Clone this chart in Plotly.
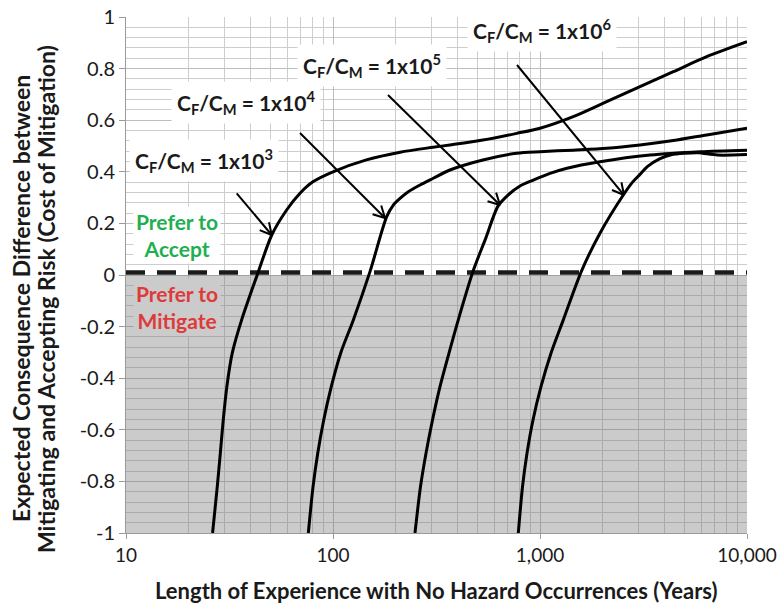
import math
import plotly.graph_objects as go

# ---- data: expected consequence difference vs. years without a hazard ----
years_1e3 = [26.2, 27.6, 28.55, 29.5, 30.7, 32.6, 36.2, 43.6, 50.6, 59.7, 69.3, 80.3,
             100, 145, 211, 304, 367, 530, 772, 1000, 1448, 2100, 3041, 4406, 6388, 10000]
diff_1e3 = [-1.0, -0.82, -0.691, -0.562, -0.433, -0.303, -0.174, 0.013, 0.155, 0.252,
            0.317, 0.362, 0.40, 0.446, 0.476, 0.495, 0.504, 0.523, 0.549, 0.569,
            0.614, 0.672, 0.730, 0.788, 0.846, 0.904]

years_1e4 = [76.0, 80.1, 84.4, 90.2, 98.1, 108.9, 125.4, 150.9, 181.7, 195.6, 210.7,
             231.1, 263.3, 305.1, 367, 530, 772, 1000, 1445, 2100, 3041, 4406, 6388, 10000]
diff_1e4 = [-1.0, -0.82, -0.691, -0.562, -0.433, -0.303, -0.174, 0.013, 0.226, 0.271,
            0.297, 0.323, 0.349, 0.375, 0.407, 0.446, 0.472, 0.478, 0.484, 0.491,
            0.504, 0.521, 0.543, 0.569]

years_1e5 = [248.9, 264.7, 281.4, 302.5, 328.8, 363.4, 402.9, 476.1, 545.4, 626.8,
             700.5, 800.8, 928, 1118, 1350, 1949, 3399, 5929, 10000]
diff_1e5 = [-1.0, -0.82, -0.691, -0.562, -0.433, -0.303, -0.174, 0.017, 0.14, 0.267,
            0.31, 0.345, 0.368, 0.394, 0.414, 0.439, 0.465, 0.478, 0.484]

years_1e6 = [785.6, 823.3, 865.5, 925.1, 1011, 1130, 1296, 1590, 1949, 2526, 2800,
             3041, 3300, 3780, 4300, 5000, 5800, 7200, 10000]
diff_1e6 = [-1.0, -0.82, -0.691, -0.562, -0.433, -0.303, -0.174, 0.017, 0.162, 0.31,
            0.36, 0.39, 0.42, 0.45, 0.466, 0.472, 0.474, 0.465, 0.467]

# ---- axis ticks ----
x_tick_vals = [10, 100, 1000, 10000]
x_tick_text = ["10", "100", "1,000", "10,000"]
y_tick_vals = [1, 0.8, 0.6, 0.4, 0.2, 0, -0.2, -0.4, -0.6, -0.8, -1]
y_tick_text = ["1", "0.8", "0.6", "0.4", "0.2", "0", "-0.2", "-0.4", "-0.6", "-0.8", "-1"]

# ---- callout labels (ratio exponent, label centre, arrow tail, arrow head) ----
label_exponents = [3, 4, 5, 6]
label_x = [1.378, 1.58, 2.19, 3.01]          # log10(years)
label_y = [0.443, 0.668, 0.813, 0.949]
arrow_tail_x = [1.5348, 1.8406, 2.2657, 2.8889]
arrow_tail_y = [0.3167, 0.5504, 0.6977, 0.814]
arrow_head_x = [1.7039, 2.2512, 2.8068, 3.4058]
arrow_head_y = [0.155, 0.2209, 0.2713, 0.310]

# ---- layout geometry ----
W, H = 777, 606
ML, MR, MT, MB = 126, 30, 17, 73
PW, PH = W - ML - MR, H - MT - MB
X_RANGE = [1, 4]
Y_RANGE = [-1, 1]

FONT = "Lato"
INK = "#1a1a1a"
SHADE = "rgba(110,110,110,0.36)"


def to_px(lx, y):
    px = ML + (lx - X_RANGE[0]) / (X_RANGE[1] - X_RANGE[0]) * PW
    py = MT + (Y_RANGE[1] - y) / (Y_RANGE[1] - Y_RANGE[0]) * PH
    return px, py


def from_px(px, py):
    lx = X_RANGE[0] + (px - ML) / PW * (X_RANGE[1] - X_RANGE[0])
    y = Y_RANGE[1] - (py - MT) / PH * (Y_RANGE[1] - Y_RANGE[0])
    return lx, y


fig = go.Figure()

# shaded "mitigate" region (drawn as a filled trace so gridlines show through)
fig.add_trace(go.Scatter(x=[10, 10000, 10000, 10, 10], y=[0, 0, -1, -1, 0],
                         mode="lines", fill="toself", fillcolor=SHADE,
                         line=dict(width=0), hoverinfo="skip", showlegend=False))

# break-even line
fig.add_trace(go.Scatter(x=[10, 10000], y=[0.01, 0.01], mode="lines",
                         line=dict(color=INK, width=4.5, dash="19px,12px"),
                         hoverinfo="skip", showlegend=False))

for xs, ys in [(years_1e3, diff_1e3), (years_1e4, diff_1e4),
               (years_1e5, diff_1e5), (years_1e6, diff_1e6)]:
    fig.add_trace(go.Scatter(x=xs, y=ys, mode="lines",
                             line=dict(color="black", width=3, shape="spline", smoothing=0.8),
                             hoverinfo="skip", showlegend=False))

# callout arrows with open heads
for tx, ty, hx, hy in zip(arrow_tail_x, arrow_tail_y, arrow_head_x, arrow_head_y):
    tpx, tpy = to_px(tx, ty)
    hpx, hpy = to_px(hx, hy)
    dx, dy = hpx - tpx, hpy - tpy
    n = math.hypot(dx, dy)
    ux, uy = dx / n, dy / n
    wing = 13
    ang = math.radians(28)
    wings = []
    for s in (1, -1):
        c, si = math.cos(s * ang), math.sin(s * ang)
        bx = -(ux * c - uy * si)
        by = -(ux * si + uy * c)
        wings.append(from_px(hpx + wing * bx, hpy + wing * by))
    xs = [10 ** tx, 10 ** hx, None, 10 ** wings[0][0], 10 ** hx, 10 ** wings[1][0]]
    ys = [ty, hy, None, wings[0][1], hy, wings[1][1]]
    fig.add_trace(go.Scatter(x=xs, y=ys, mode="lines",
                             line=dict(color="black", width=2),
                             hoverinfo="skip", showlegend=False))

for e, lx, ly in zip(label_exponents, label_x, label_y):
    fig.add_annotation(x=lx, y=ly, xref="x", yref="y", showarrow=False,
                       text=f"<b>C<sub>F</sub>/C<sub>M</sub> = 1x10<sup>{e}</sup></b>",
                       font=dict(family=FONT, size=21, color=INK),
                       bgcolor="white", borderpad=5)

fig.add_annotation(x=1.245, y=0.154, xref="x", yref="y", showarrow=False,
                   text="<b>Prefer to<br>Accept</b>",
                   font=dict(family=FONT, size=21, color="#1eb050"),
                   bgcolor="white", borderpad=2)
fig.add_annotation(x=1.245, y=-0.125, xref="x", yref="y", showarrow=False,
                   text="<b>Prefer to<br>Mitigate</b>",
                   font=dict(family=FONT, size=21, color="#de3a3a"),
                   bgcolor="#cbcbcb", borderpad=2)

# axis titles
y_title_lines = ["Expected Consequence Difference between",
                 "Mitigating and Accepting Risk (Cost of Mitigation)"]
y_title_px = [21, 46]
for line, px in zip(y_title_lines, y_title_px):
    fig.add_annotation(x=(px - ML) / PW, y=(MT + PH - 299) / PH,
                       xref="paper", yref="paper", showarrow=False,
                       textangle=-90, xanchor="center", yanchor="middle",
                       text=f"<b>{line}</b>",
                       font=dict(family=FONT, size=23, color=INK))
fig.add_annotation(x=0.5, y=(MT + PH - 590) / PH, xref="paper", yref="paper",
                   showarrow=False, xanchor="center", yanchor="middle",
                   text="<b>Length of Experience with No Hazard Occurrences (Years)</b>",
                   font=dict(family=FONT, size=22, color=INK))

fig.update_layout(
    width=W, height=H,
    margin=dict(l=ML, r=MR, t=MT, b=MB, autoexpand=False),
    paper_bgcolor="white", plot_bgcolor="white",
    font=dict(family=FONT, size=20, color=INK),
    showlegend=False,
    xaxis=dict(type="log", range=X_RANGE, tickvals=x_tick_vals, ticktext=x_tick_text,
               ticks="outside", ticklen=5, tickcolor="#9a9a9a",
               showline=True, linecolor="#9a9a9a", linewidth=1,
               showgrid=True, gridcolor="#bdbdbd", gridwidth=1,
               minor=dict(dtick="D1", showgrid=True, gridcolor="#cdcdcd", ticks=""),
               zeroline=False, tickfont=dict(size=19), ticklabeloverflow="allow",
               automargin=False),
    yaxis=dict(range=Y_RANGE, tickvals=y_tick_vals, ticktext=y_tick_text,
               ticks="outside", ticklen=6, tickcolor="#9a9a9a",
               showline=True, linecolor="#9a9a9a", linewidth=1,
               showgrid=True, gridcolor="#bdbdbd", gridwidth=1,
               minor=dict(dtick=0.04, showgrid=True, gridcolor="#cdcdcd", ticks=""),
               zeroline=False, tickfont=dict(size=20), automargin=False),
)

fig.write_html("out.html")
